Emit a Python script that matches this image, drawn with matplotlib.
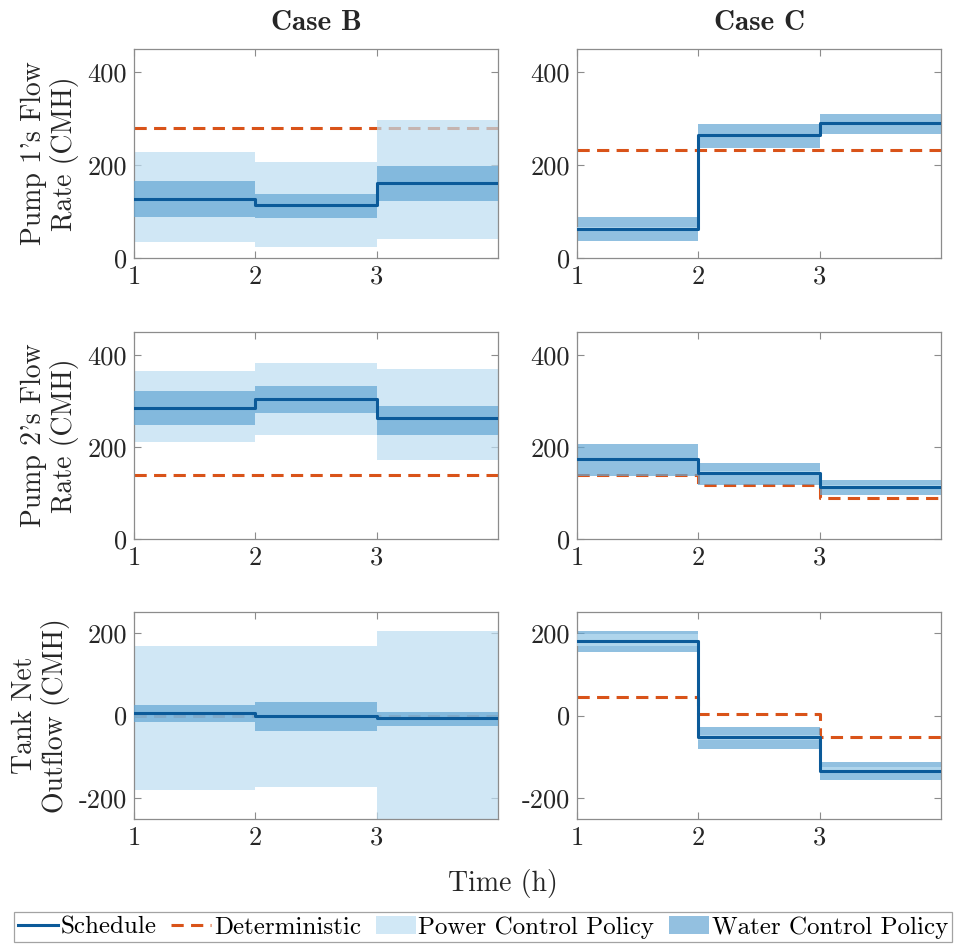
import numpy as np
import matplotlib
matplotlib.use("Agg")
import matplotlib.pyplot as plt
from matplotlib.lines import Line2D
from matplotlib.patches import Patch

plt.rcParams['font.family'] = 'cmr10'
plt.rcParams['mathtext.fontset'] = 'cm'
plt.rcParams['axes.unicode_minus'] = False
FS = 19

hours = [1, 2, 3, 4]

# --- Case B ---
b_pump1_sched = [127, 114, 162]
b_pump1_det = [279, 279, 279]
b_pump1_water = [(88, 165), (86, 137), (122, 198)]
b_pump1_power = [(34, 229), (23, 206), (41, 298)]

b_pump2_sched = [285, 305, 264]
b_pump2_det = [140, 140, 140]
b_pump2_water = [(249, 322), (275, 332), (226, 289)]
b_pump2_power = [(212, 365), (227, 383), (172, 370)]

b_tank_sched = [5, -1, -7]
b_tank_det = [0, 0, 0]
b_tank_water = [(-15, 26), (-38, 33), (-26, 9)]
b_tank_power = [(-179, 169), (-173, 167), (-270, 204)]

# --- Case C ---
c_pump1_sched = [63, 264, 290]
c_pump1_det = [232, 232, 232]
c_pump1_water = [(36, 88), (237, 288), (268, 310)]
c_pump1_power = [(60, 66), (261, 267), (287, 293)]

c_pump2_sched = [173, 144, 113]
c_pump2_det = [139, 118, 90]
c_pump2_water = [(138, 206), (118, 165), (95, 128)]
c_pump2_power = [(169, 177), (140, 148), (109, 117)]

c_tank_sched = [181, -53, -133]
c_tank_det = [46, 4, -52]
c_tank_water = [(154, 205), (-82, -28), (-155, -113)]
c_tank_power = [(167, 196), (-60, -46), (-138, -124)]

row_labels = ["Pump 1's Flow\nRate (CMH)", "Pump 2's Flow\nRate (CMH)", "Tank Net\nOutflow (CMH)"]
col_titles = ["Case B", "Case C"]

panels = [
    [(b_pump1_sched, b_pump1_det, b_pump1_water, b_pump1_power),
     (c_pump1_sched, c_pump1_det, c_pump1_water, c_pump1_power)],
    [(b_pump2_sched, b_pump2_det, b_pump2_water, b_pump2_power),
     (c_pump2_sched, c_pump2_det, c_pump2_water, c_pump2_power)],
    [(b_tank_sched, b_tank_det, b_tank_water, b_tank_power),
     (c_tank_sched, c_tank_det, c_tank_water, c_tank_power)],
]

ylims = [(0, 450), (0, 450), (-250, 250)]
yticks = [[0, 200, 400], [0, 200, 400], [-200, 0, 200]]

sched_c = '#0b5a99'
det_c = '#d95319'
power_c = (0.74, 0.87, 0.95)
water_c = (0.39, 0.65, 0.83)
power_leg = '#d1e8f6'
water_leg = '#93c0e0'
spine_c = '#8c8c8c'
text_c = '#262626'

fig = plt.figure(figsize=(9.56, 9.49), dpi=100)

lefts = [0.140, 0.6036]
bottoms = [0.7281, 0.432, 0.137]
heights = [0.2202, 0.218, 0.218]
width = 0.381


def hold(v):
    # repeat last value so the step reaches x=4
    return list(v) + [v[-1]]


for r in range(3):
    for c in range(2):
        ax = fig.add_axes([lefts[c], bottoms[r], width, heights[r]])
        sched, det, water, power = panels[r][c]
        wlo = hold([w[0] for w in water])
        whi = hold([w[1] for w in water])
        plo = hold([p[0] for p in power])
        phi = hold([p[1] for p in power])

        ax.step(hours, hold(det), where='post', color=det_c, lw=2.2,
                dashes=(4, 2.4), zorder=1)
        if c == 0:
            pz, wz = 2, 3
        else:
            pz, wz = 3, 2
        ax.fill_between(hours, plo, phi, step='post', color=power_c,
                        alpha=0.7, lw=0, zorder=pz)
        ax.fill_between(hours, wlo, whi, step='post', color=water_c,
                        alpha=0.7, lw=0, zorder=wz)
        ax.step(hours, hold(sched), where='post', color=sched_c, lw=2.2,
                zorder=4)

        ax.set_xlim(1, 4)
        ax.set_ylim(*ylims[r])
        ax.set_xticks([1, 2, 3])
        ax.set_xticklabels(['1', '2', '3'], fontsize=FS)
        ax.set_yticks(yticks[r])
        ax.set_yticklabels([str(t) for t in yticks[r]], fontsize=FS)
        ax.tick_params(direction='in', top=True, right=True, length=5,
                       width=0.8, color=spine_c, labelcolor=text_c, pad=5)
        for s in ax.spines.values():
            s.set_color(spine_c)
            s.set_linewidth(0.9)
        if r == 0:
            ax.set_title(col_titles[c], fontsize=21, family='cmb10', pad=14,
                         color=text_c)
        if c == 0:
            ax.set_ylabel(row_labels[r], fontsize=FS + 1, color=text_c,
                          labelpad=6, linespacing=1.15)

fig.text(503 / 956, 1 - 883 / 949, 'Time (h)', ha='center', va='center',
         fontsize=FS + 1, color=text_c)

handles = [
    Line2D([], [], color=sched_c, lw=2.2),
    Line2D([], [], color=det_c, lw=2.2, dashes=(4, 2.4)),
    Patch(facecolor=power_leg, edgecolor='none'),
    Patch(facecolor=water_leg, edgecolor='none'),
]
labels = ['Schedule', 'Deterministic', 'Power Control Policy', 'Water Control Policy']
leg = fig.legend(handles, labels, loc='center', bbox_to_anchor=(483 / 956, 0.0227),
                 ncol=4, fontsize=18, frameon=True, fancybox=False,
                 handlelength=1.6, handletextpad=0.1, columnspacing=0.6,
                 borderpad=0.15, borderaxespad=0)
leg.get_frame().set_edgecolor(spine_c)
leg.get_frame().set_linewidth(0.9)

fig.savefig('out.png', dpi=100)
